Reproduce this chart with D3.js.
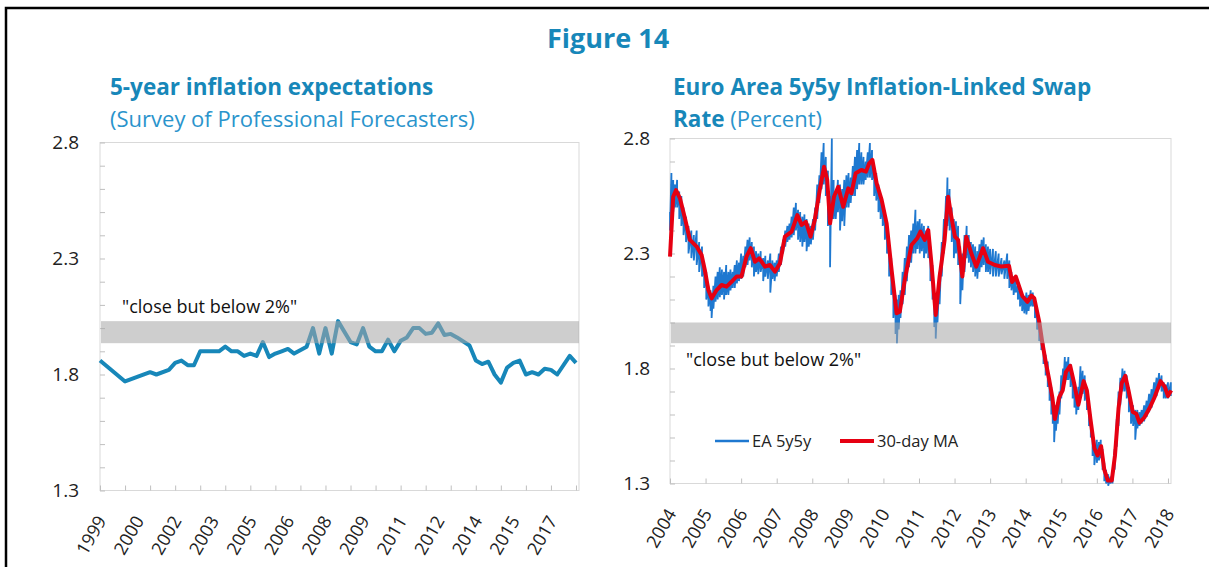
<!DOCTYPE html>
<html>
<head>
<meta charset="utf-8">
<script src="https://cdn.jsdelivr.net/npm/d3@7/dist/d3.min.js"></script>
<style>
    body { margin: 0; background: #fff; }
    text { font-family: "Open Sans", "Noto Sans", sans-serif; }
</style>
</head>
<body>
<script>
// left panel: SPF 5-year ahead inflation expectations (quarterly)
var spfDates = ["1999Q1", "2000Q1", "2001Q1", "2001Q2", "2001Q4", "2002Q1", "2002Q2", "2002Q3", "2002Q4",
    "2003Q1", "2003Q4", "2004Q1", "2004Q2", "2004Q3", "2004Q4", "2005Q1", "2005Q2", "2005Q3", "2005Q4",
    "2006Q1", "2006Q2", "2006Q3", "2006Q4", "2007Q2", "2007Q3", "2007Q4", "2008Q1", "2008Q2", "2008Q3",
    "2009Q1", "2009Q2", "2009Q3", "2009Q4", "2010Q1", "2010Q2", "2010Q3", "2010Q4", "2011Q1", "2011Q2",
    "2011Q3", "2011Q4", "2012Q1", "2012Q2", "2012Q3", "2012Q4", "2013Q1", "2013Q2", "2013Q4", "2014Q1",
    "2014Q2", "2014Q3", "2014Q4", "2015Q1", "2015Q2", "2015Q3", "2015Q4", "2016Q1", "2016Q2", "2016Q3",
    "2016Q4", "2017Q1", "2017Q2", "2017Q4", "2018Q1"];
var spfValues = [1.86, 1.77, 1.81, 1.80, 1.82, 1.85, 1.86, 1.84, 1.84,
    1.90, 1.90, 1.92, 1.90, 1.90, 1.88, 1.89, 1.88, 1.94, 1.875,
    1.89, 1.90, 1.91, 1.89, 1.92, 2.00, 1.89, 2.00, 1.89, 2.03,
    1.94, 1.93, 2.00, 1.92, 1.90, 1.90, 1.95, 1.90, 1.945, 1.96,
    2.00, 2.00, 1.975, 1.98, 2.02, 1.97, 1.975, 1.96, 1.925, 1.86,
    1.845, 1.855, 1.80, 1.765, 1.83, 1.85, 1.86, 1.80, 1.81, 1.80,
    1.825, 1.82, 1.80, 1.88, 1.85];
var spfTickYears = [1999, 2000, 2001, 2002, 2003, 2004, 2005, 2006, 2007, 2008, 2009,
    2010, 2011, 2012, 2013, 2014, 2015, 2016, 2017, 2018];
var spfLabels = ["1999", "2000", "2002", "2003", "2005", "2006", "2008", "2009", "2011", "2012", "2014", "2015", "2017"];
var spfLabelDates = ["1999Q1", "2000Q3", "2002Q1", "2003Q3", "2005Q1", "2006Q3", "2008Q1", "2009Q3",
    "2011Q1", "2012Q3", "2014Q1", "2015Q3", "2017Q1"];
var spfBand = [1.935, 2.03];

// right panel: EA 5y5y swap rate, read as [decimal year, daily high, daily low]
var swapRange = [
    [2004.00, 2.48, 2.40], [2004.04, 2.65, 2.50], [2004.09, 2.62, 2.48], [2004.14, 2.60, 2.50],
    [2004.20, 2.62, 2.50], [2004.26, 2.57, 2.45], [2004.32, 2.55, 2.42], [2004.38, 2.50, 2.38],
    [2004.45, 2.46, 2.35], [2004.52, 2.42, 2.30], [2004.60, 2.40, 2.28], [2004.67, 2.38, 2.27],
    [2004.75, 2.40, 2.25], [2004.82, 2.35, 2.22], [2004.90, 2.33, 2.20], [2004.96, 2.26, 2.15],
    [2005.02, 2.22, 2.10], [2005.08, 2.16, 2.07], [2005.14, 2.14, 2.05], [2005.17, 2.10, 2.02],
    [2005.22, 2.16, 2.06], [2005.28, 2.20, 2.09], [2005.34, 2.22, 2.10], [2005.40, 2.24, 2.11],
    [2005.46, 2.23, 2.12], [2005.52, 2.22, 2.10], [2005.58, 2.25, 2.12], [2005.64, 2.22, 2.12],
    [2005.70, 2.23, 2.14], [2005.76, 2.22, 2.15], [2005.82, 2.25, 2.15], [2005.88, 2.27, 2.17],
    [2005.94, 2.26, 2.18], [2006.00, 2.30, 2.19], [2006.06, 2.29, 2.20], [2006.12, 2.33, 2.24],
    [2006.18, 2.36, 2.25], [2006.24, 2.37, 2.27], [2006.30, 2.35, 2.24], [2006.36, 2.33, 2.20],
    [2006.42, 2.31, 2.22], [2006.48, 2.30, 2.21], [2006.55, 2.31, 2.22], [2006.62, 2.28, 2.18],
    [2006.68, 2.29, 2.20], [2006.75, 2.27, 2.19], [2006.82, 2.30, 2.13], [2006.88, 2.27, 2.19],
    [2006.94, 2.26, 2.18], [2007.00, 2.27, 2.20], [2007.06, 2.30, 2.22], [2007.12, 2.33, 2.25],
    [2007.18, 2.36, 2.30], [2007.24, 2.40, 2.33], [2007.30, 2.42, 2.35], [2007.36, 2.43, 2.36],
    [2007.42, 2.46, 2.37], [2007.48, 2.50, 2.38], [2007.54, 2.52, 2.40], [2007.60, 2.49, 2.36],
    [2007.66, 2.48, 2.35], [2007.72, 2.46, 2.33], [2007.78, 2.47, 2.35], [2007.84, 2.45, 2.31],
    [2007.90, 2.43, 2.33], [2007.96, 2.42, 2.34], [2008.02, 2.45, 2.36], [2008.08, 2.50, 2.40],
    [2008.14, 2.60, 2.45], [2008.20, 2.64, 2.52], [2008.26, 2.74, 2.58], [2008.32, 2.78, 2.60],
    [2008.38, 2.72, 2.55], [2008.44, 2.66, 2.42], [2008.50, 2.55, 2.24], [2008.55, 2.80, 2.45],
    [2008.60, 2.62, 2.45], [2008.66, 2.55, 2.45], [2008.72, 2.62, 2.48], [2008.78, 2.60, 2.40],
    [2008.84, 2.58, 2.44], [2008.90, 2.62, 2.42], [2008.96, 2.64, 2.50], [2009.02, 2.65, 2.50],
    [2009.08, 2.63, 2.52], [2009.14, 2.68, 2.55], [2009.20, 2.72, 2.55], [2009.26, 2.75, 2.58],
    [2009.32, 2.78, 2.60], [2009.38, 2.74, 2.60], [2009.44, 2.72, 2.60], [2009.50, 2.70, 2.62],
    [2009.56, 2.74, 2.63], [2009.62, 2.78, 2.63], [2009.68, 2.75, 2.62], [2009.74, 2.68, 2.55],
    [2009.80, 2.65, 2.53], [2009.86, 2.60, 2.48], [2009.92, 2.55, 2.45], [2009.98, 2.52, 2.42],
    [2010.04, 2.47, 2.36], [2010.10, 2.43, 2.30], [2010.16, 2.35, 2.20], [2010.22, 2.28, 2.12],
    [2010.28, 2.18, 2.02], [2010.34, 2.12, 1.95], [2010.38, 2.10, 1.91], [2010.43, 2.12, 1.97],
    [2010.48, 2.14, 2.02], [2010.54, 2.22, 2.08], [2010.60, 2.28, 2.12], [2010.66, 2.33, 2.18],
    [2010.72, 2.38, 2.24], [2010.78, 2.40, 2.26], [2010.84, 2.43, 2.30], [2010.90, 2.49, 2.30],
    [2010.96, 2.44, 2.32], [2011.02, 2.45, 2.30], [2011.08, 2.43, 2.31], [2011.14, 2.42, 2.28],
    [2011.20, 2.40, 2.30], [2011.26, 2.42, 2.28], [2011.32, 2.33, 2.18], [2011.38, 2.25, 2.10],
    [2011.43, 2.12, 1.98], [2011.47, 2.05, 1.93], [2011.52, 2.12, 2.00], [2011.58, 2.22, 2.08],
    [2011.64, 2.35, 2.20], [2011.70, 2.45, 2.30], [2011.76, 2.55, 2.38], [2011.80, 2.63, 2.42],
    [2011.86, 2.58, 2.40], [2011.92, 2.50, 2.35], [2011.98, 2.45, 2.28], [2012.04, 2.44, 2.30],
    [2012.10, 2.42, 2.25], [2012.16, 2.33, 2.08], [2012.22, 2.30, 2.14], [2012.28, 2.38, 2.22],
    [2012.34, 2.42, 2.28], [2012.40, 2.38, 2.26], [2012.46, 2.35, 2.24], [2012.52, 2.34, 2.22],
    [2012.58, 2.33, 2.20], [2012.64, 2.31, 2.19], [2012.70, 2.34, 2.22], [2012.76, 2.36, 2.24],
    [2012.82, 2.37, 2.25], [2012.88, 2.34, 2.22], [2012.94, 2.33, 2.22], [2013.00, 2.32, 2.21],
    [2013.08, 2.32, 2.20], [2013.16, 2.31, 2.20], [2013.24, 2.30, 2.20], [2013.32, 2.28, 2.21],
    [2013.40, 2.27, 2.19], [2013.48, 2.30, 2.19], [2013.54, 2.27, 2.15], [2013.60, 2.22, 2.14],
    [2013.66, 2.20, 2.12], [2013.72, 2.20, 2.13], [2013.78, 2.16, 2.10], [2013.84, 2.14, 2.07],
    [2013.90, 2.12, 2.05], [2013.96, 2.11, 2.04], [2014.02, 2.13, 2.035], [2014.08, 2.12, 2.05],
    [2014.14, 2.14, 2.07], [2014.20, 2.13, 2.07], [2014.26, 2.10, 2.02], [2014.32, 2.05, 1.97],
    [2014.38, 1.99, 1.92], [2014.44, 1.95, 1.88], [2014.50, 1.91, 1.82], [2014.56, 1.86, 1.77],
    [2014.62, 1.83, 1.72], [2014.67, 1.75, 1.66], [2014.72, 1.72, 1.60], [2014.76, 1.66, 1.56],
    [2014.80, 1.62, 1.48], [2014.85, 1.64, 1.53], [2014.90, 1.64, 1.56], [2014.95, 1.70, 1.60],
    [2015.00, 1.77, 1.67], [2015.05, 1.80, 1.70], [2015.10, 1.85, 1.74], [2015.15, 1.83, 1.75],
    [2015.20, 1.85, 1.75], [2015.26, 1.82, 1.72], [2015.32, 1.78, 1.67], [2015.37, 1.74, 1.63],
    [2015.42, 1.70, 1.60], [2015.48, 1.72, 1.62], [2015.54, 1.81, 1.70], [2015.60, 1.79, 1.69],
    [2015.66, 1.77, 1.66], [2015.72, 1.72, 1.62], [2015.78, 1.66, 1.55], [2015.83, 1.60, 1.50],
    [2015.88, 1.52, 1.42], [2015.93, 1.49, 1.38], [2016.00, 1.49, 1.39], [2016.06, 1.48, 1.40],
    [2016.11, 1.49, 1.41], [2016.16, 1.45, 1.36], [2016.21, 1.39, 1.31], [2016.26, 1.36, 1.30],
    [2016.32, 1.34, 1.29], [2016.38, 1.33, 1.30], [2016.44, 1.35, 1.30], [2016.50, 1.45, 1.36],
    [2016.56, 1.58, 1.46], [2016.61, 1.70, 1.55], [2016.66, 1.76, 1.64], [2016.72, 1.80, 1.70],
    [2016.78, 1.79, 1.70], [2016.84, 1.77, 1.67], [2016.90, 1.72, 1.61], [2016.96, 1.66, 1.56],
    [2017.02, 1.64, 1.55], [2017.08, 1.62, 1.49], [2017.14, 1.62, 1.54], [2017.20, 1.61, 1.55],
    [2017.26, 1.62, 1.56], [2017.33, 1.64, 1.57], [2017.40, 1.66, 1.59], [2017.47, 1.69, 1.61],
    [2017.54, 1.71, 1.63], [2017.61, 1.74, 1.66], [2017.68, 1.76, 1.68], [2017.75, 1.78, 1.71],
    [2017.82, 1.77, 1.70], [2017.88, 1.74, 1.67], [2017.94, 1.73, 1.67], [2018.00, 1.74, 1.67],
    [2018.08, 1.74, 1.68]
];
// 30-day moving average
var maDates = [2004.00, 2004.09, 2004.17, 2004.28, 2004.42, 2004.56, 2004.75, 2004.89, 2004.98, 2005.08,
    2005.17, 2005.31, 2005.45, 2005.59, 2005.73, 2005.87, 2006.01, 2006.15, 2006.27, 2006.39,
    2006.51, 2006.67, 2006.81, 2006.95, 2007.09, 2007.23, 2007.42, 2007.58, 2007.70, 2007.82,
    2007.95, 2008.07, 2008.21, 2008.33, 2008.42, 2008.50, 2008.61, 2008.73, 2008.87, 2009.01,
    2009.10, 2009.22, 2009.38, 2009.51, 2009.60, 2009.69, 2009.81, 2009.95, 2010.09, 2010.23,
    2010.37, 2010.46, 2010.60, 2010.79, 2010.95, 2011.04, 2011.16, 2011.26, 2011.35, 2011.47,
    2011.58, 2011.72, 2011.82, 2011.91, 2012.01, 2012.10, 2012.22, 2012.33, 2012.47, 2012.61,
    2012.80, 2012.94, 2013.13, 2013.32, 2013.53, 2013.62, 2013.72, 2013.91, 2014.05, 2014.16,
    2014.24, 2014.38, 2014.47, 2014.56, 2014.66, 2014.75, 2014.82, 2014.94, 2015.04, 2015.13,
    2015.25, 2015.36, 2015.48, 2015.63, 2015.72, 2015.82, 2015.93, 2016.02, 2016.12, 2016.21,
    2016.31, 2016.42, 2016.51, 2016.61, 2016.70, 2016.80, 2016.89, 2017.01, 2017.11, 2017.20,
    2017.34, 2017.48, 2017.62, 2017.79, 2017.91, 2018.00, 2018.09];
var maValues = [2.286, 2.547, 2.576, 2.54, 2.453, 2.359, 2.33, 2.293, 2.228, 2.141,
    2.105, 2.141, 2.163, 2.156, 2.177, 2.2, 2.2, 2.286, 2.323, 2.264,
    2.279, 2.243, 2.25, 2.221, 2.257, 2.373, 2.395, 2.467, 2.424, 2.438,
    2.373, 2.446, 2.576, 2.677, 2.62, 2.431, 2.547, 2.59, 2.503, 2.583,
    2.562, 2.649, 2.663, 2.656, 2.692, 2.707, 2.605, 2.533, 2.431, 2.228,
    2.04, 2.047, 2.185, 2.337, 2.366, 2.395, 2.359, 2.402, 2.257, 2.033,
    2.2, 2.359, 2.547, 2.46, 2.373, 2.359, 2.2, 2.373, 2.301, 2.243,
    2.323, 2.264, 2.25, 2.243, 2.247, 2.176, 2.2, 2.114, 2.09, 2.117,
    2.106, 2.004, 1.91, 1.831, 1.752, 1.674, 1.58, 1.674, 1.705, 1.784,
    1.812, 1.737, 1.642, 1.745, 1.705, 1.58, 1.454, 1.422, 1.462, 1.36,
    1.313, 1.313, 1.422, 1.627, 1.737, 1.768, 1.705, 1.611, 1.603, 1.564,
    1.588, 1.627, 1.674, 1.745, 1.721, 1.68, 1.705];
var swapYears = [2004, 2005, 2006, 2007, 2008, 2009, 2010, 2011, 2012, 2013, 2014, 2015, 2016, 2017, 2018];
var swapBand = [1.91, 2.0];

var yTicks = [1.3, 1.4, 1.5, 1.6, 1.7, 1.8, 1.9, 2.0, 2.1, 2.2, 2.3, 2.4, 2.5, 2.6, 2.7, 2.8];
var yLabels = ["1.3", "1.8", "2.3", "2.8"];

var teal = "#1787b9";

function quarterToYear(q) {
    return +q.slice(0, 4) + (+q.slice(5) - 1) / 4;
}

var svg = d3.select("body").append("svg")
    .attr("width", 1209)
    .attr("height", 567);

// outer frame
svg.append("path")
    .attr("d", "M6,567 L6,8 L1209,8")
    .attr("fill", "none")
    .attr("stroke", "#000")
    .attr("stroke-width", 2.5);

svg.append("text")
    .attr("x", 608).attr("y", 48)
    .attr("text-anchor", "middle")
    .attr("font-size", 27).attr("font-weight", "bold")
    .attr("fill", teal)
    .text("Figure 14");

// draws the frame, y axis and x ticks for one panel
function drawFrame(g, x, y, tickYears, padding) {
    var r = x.range(), b = y.range();
    g.append("rect")
        .attr("x", r[0]).attr("y", b[1])
        .attr("width", r[1] - r[0]).attr("height", b[0] - b[1])
        .attr("fill", "none").attr("stroke", "#d9d9d9");

    var ya = g.append("g")
        .attr("transform", "translate(" + r[0] + ",0)")
        .call(d3.axisLeft(y).tickValues(yTicks).tickSize(-5).tickPadding(padding)
            .tickFormat(function(d) {
                var s = d.toFixed(1);
                return yLabels.indexOf(s) >= 0 ? s : "";
            }));
    ya.select(".domain").remove();
    ya.selectAll("line").attr("stroke", "#bfbfbf");
    ya.selectAll("text").attr("font-size", 19).attr("fill", "#222")
        .style("font-family", "'Open Sans', sans-serif");

    var xa = g.append("g")
        .attr("transform", "translate(0," + b[0] + ")")
        .call(d3.axisBottom(x).tickValues(tickYears).tickSize(-5).tickFormat(""));
    xa.select(".domain").remove();
    xa.selectAll("line").attr("stroke", "#bfbfbf");
}

function drawXLabels(g, x, y, positions, labels) {
    var b = y.range()[0];
    g.selectAll("text.xl")
        .data(positions)
        .enter()
        .append("text")
        .attr("class", "xl")
        .attr("text-anchor", "end")
        .attr("font-size", 18)
        .attr("fill", "#222")
        .attr("transform", function(d) {
            return "translate(" + (x(d) + 7) + "," + (b + 30) + ") rotate(-60)";
        })
        .text(function(d, i) { return labels[i]; });
}

function drawBand(g, x, y, band) {
    var r = x.range();
    g.append("rect")
        .attr("x", r[0] + 1).attr("width", r[1] - r[0] - 1)
        .attr("y", y(band[1])).attr("height", y(band[0]) - y(band[1]))
        .attr("fill", "#a6a6a6").attr("fill-opacity", 0.55);
}

// ---- left panel ----
var xL = d3.scaleLinear().domain([1999, 2018.12]).range([100, 579]);
var yL = d3.scaleLinear().domain([1.3, 2.8]).range([490.5, 142.5]);
var gL = svg.append("g");

gL.append("text").attr("x", 110).attr("y", 95)
    .attr("font-size", 22.5).attr("font-weight", "bold").attr("fill", teal)
    .text("5-year inflation expectations");
gL.append("text").attr("x", 110).attr("y", 127)
    .attr("font-size", 22).attr("fill", "#2a94cc")
    .text("(Survey of Professional Forecasters)");

drawFrame(gL, xL, yL, spfTickYears, 21);

var spfLine = d3.line()
    .x(function(d, i) { return xL(quarterToYear(spfDates[i])); })
    .y(function(d) { return yL(d); });

gL.append("path")
    .datum(spfValues)
    .attr("fill", "none")
    .attr("stroke", teal)
    .attr("stroke-width", 4)
    .attr("stroke-linejoin", "round")
    .attr("d", spfLine);

drawBand(gL, xL, yL, spfBand);

gL.append("text").attr("x", 122).attr("y", 313)
    .attr("font-size", 18).attr("fill", "#111")
    .text("\"close but below 2%\"");

drawXLabels(gL, xL, yL, spfLabelDates.map(quarterToYear), spfLabels);

// ---- right panel ----
var xR = d3.scaleLinear().domain([2004, 2018.085]).range([670, 1171]);
var yR = d3.scaleLinear().domain([1.3, 2.8]).range([483.5, 138.5]);
var gR = svg.append("g");

gR.append("text").attr("x", 673).attr("y", 95)
    .attr("font-size", 22.5).attr("font-weight", "bold").attr("fill", teal)
    .text("Euro Area 5y5y Inflation-Linked Swap");
var t2 = gR.append("text").attr("x", 673).attr("y", 127)
    .attr("font-size", 22).attr("fill", teal);
t2.append("tspan").attr("font-weight", "bold").attr("font-size", 22.5).text("Rate");
t2.append("tspan").attr("fill", "#2a94cc").text(" (Percent)");

drawFrame(gR, xR, yR, swapYears, 20);

// daily series: each row drawn through its high then its low
var swapPoints = [];
swapRange.forEach(function(r) {
    swapPoints.push([r[0], r[1]]);
    swapPoints.push([r[0], r[2]]);
});

gR.append("path")
    .datum(swapPoints)
    .attr("fill", "none")
    .attr("stroke", "#1e78d0")
    .attr("stroke-width", 1.8)
    .attr("d", d3.line()
        .x(function(d) { return xR(d[0]); })
        .y(function(d) { return yR(d[1]); }));

gR.append("path")
    .datum(maValues)
    .attr("fill", "none")
    .attr("stroke", "#e60012")
    .attr("stroke-width", 4)
    .attr("stroke-linejoin", "round")
    .attr("d", d3.line()
        .x(function(d, i) { return xR(maDates[i]); })
        .y(function(d) { return yR(d); }));

drawBand(gR, xR, yR, swapBand);

gR.append("text").attr("x", 686).attr("y", 366)
    .attr("font-size", 18).attr("fill", "#111")
    .text("\"close but below 2%\"");

// legend
var legend = [
    { name: "EA 5y5y", color: "#1e78d0", width: 2.5, x: 715 },
    { name: "30-day MA", color: "#e60012", width: 4, x: 840 }
];
legend.forEach(function(l) {
    gR.append("line")
        .attr("x1", l.x).attr("x2", l.x + 34)
        .attr("y1", 441).attr("y2", 441)
        .attr("stroke", l.color).attr("stroke-width", l.width);
    gR.append("text")
        .attr("x", l.x + 37).attr("y", 447)
        .attr("font-size", 16.5).attr("fill", "#222")
        .text(l.name);
});

drawXLabels(gR, xR, yR, swapYears, swapYears.map(String));
</script>
</body>
</html>
